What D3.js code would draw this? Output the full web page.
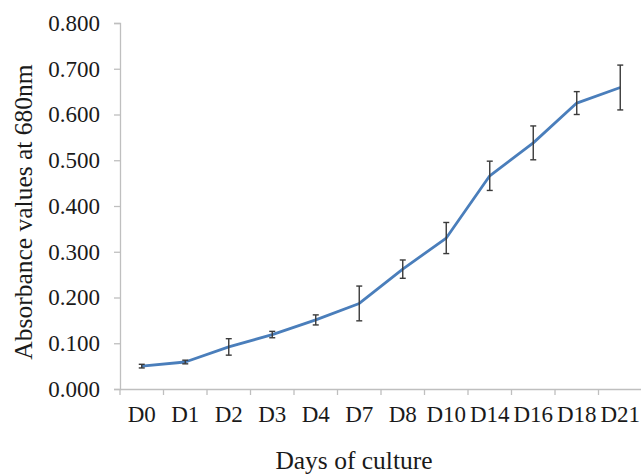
<!DOCTYPE html>
<html>
<head>
<meta charset="utf-8">
<script src="https://cdn.jsdelivr.net/npm/d3@7"></script>
<style>
  body { margin: 0; background: #fff; }
  svg { display: block; }
</style>
</head>
<body>
<svg width="641" height="476"></svg>
<script>
const days = ["D0", "D1", "D2", "D3", "D4", "D7", "D8", "D10", "D14", "D16", "D18", "D21"];
const absorbance = [0.050, 0.059, 0.092, 0.119, 0.151, 0.187, 0.262, 0.330, 0.466, 0.538, 0.625, 0.659];
const errors = [0.004, 0.004, 0.018, 0.007, 0.011, 0.038, 0.020, 0.034, 0.032, 0.037, 0.025, 0.049];
const yTicks = [0, 0.1, 0.2, 0.3, 0.4, 0.5, 0.6, 0.7, 0.8];

const serif = "'Liberation Serif', 'Times New Roman', Times, serif";
const svg = d3.select("svg");
const plotLeft = 120, plotRight = 642, plotTop = 23, plotBottom = 389;

const x = d3.scaleBand().domain(days).range([plotLeft, plotRight]);
const y = d3.scaleLinear().domain([0, 0.8]).range([plotBottom, plotTop]);

// y axis
const yAxis = svg.append("g")
    .attr("transform", `translate(${plotLeft},0)`)
    .call(d3.axisLeft(y).tickValues(yTicks).tickFormat(d3.format(".3f")).tickSize(6).tickPadding(14));
yAxis.attr("font-family", null);
yAxis.select(".domain").attr("stroke", "#bfbfbf").attr("stroke-width", 1.3);
yAxis.selectAll(".tick line").attr("stroke", "#bfbfbf").attr("stroke-width", 1.3);
yAxis.selectAll(".tick text")
    .style("font-family", serif)
    .style("font-size", "23px")
    .attr("fill", "#1a1a1a");

// x axis
const xAxis = svg.append("g")
    .attr("transform", `translate(0,${plotBottom})`)
    .call(d3.axisBottom(x).tickSize(0).tickPadding(17));
xAxis.attr("font-family", null);
xAxis.select(".domain").attr("stroke", "#bfbfbf").attr("stroke-width", 1.3);
xAxis.selectAll(".tick text")
    .style("font-family", serif)
    .style("font-size", "23px")
    .attr("fill", "#1a1a1a");

// category boundary ticks
svg.append("g")
    .selectAll("line")
    .data(days)
    .enter()
    .append("line")
    .attr("x1", d => x(d))
    .attr("x2", d => x(d))
    .attr("y1", plotBottom)
    .attr("y2", plotBottom + 6)
    .attr("stroke", "#bfbfbf")
    .attr("stroke-width", 1.3);

const cx = d => x(d) + x.bandwidth() / 2;

// line
const line = d3.line()
    .x((d, i) => cx(days[i]))
    .y(d => y(d));
svg.append("path")
    .datum(absorbance)
    .attr("d", line)
    .attr("fill", "none")
    .attr("stroke", "#4a7ebb")
    .attr("stroke-width", 2.8)
    .attr("stroke-linejoin", "round");

// error bars
const eb = svg.append("g")
    .attr("stroke", "#3a3a3a")
    .attr("stroke-width", 1.4);
days.forEach((d, i) => {
    const hi = y(absorbance[i] + errors[i]), lo = y(absorbance[i] - errors[i]);
    eb.append("line").attr("x1", cx(d)).attr("x2", cx(d)).attr("y1", hi).attr("y2", lo);
    eb.append("line").attr("x1", cx(d) - 3).attr("x2", cx(d) + 3).attr("y1", hi).attr("y2", hi);
    eb.append("line").attr("x1", cx(d) - 3).attr("x2", cx(d) + 3).attr("y1", lo).attr("y2", lo);
});

// titles
svg.append("text")
    .attr("transform", "translate(32,212) rotate(-90)")
    .attr("text-anchor", "middle")
    .style("font-family", serif)
    .style("font-size", "25.5px")
    .attr("fill", "#1a1a1a")
    .text("Absorbance values at 680nm");

svg.append("text")
    .attr("x", 354)
    .attr("y", 469)
    .attr("text-anchor", "middle")
    .style("font-family", serif)
    .style("font-size", "25.5px")
    .attr("fill", "#1a1a1a")
    .text("Days of culture");
</script>
</body>
</html>
